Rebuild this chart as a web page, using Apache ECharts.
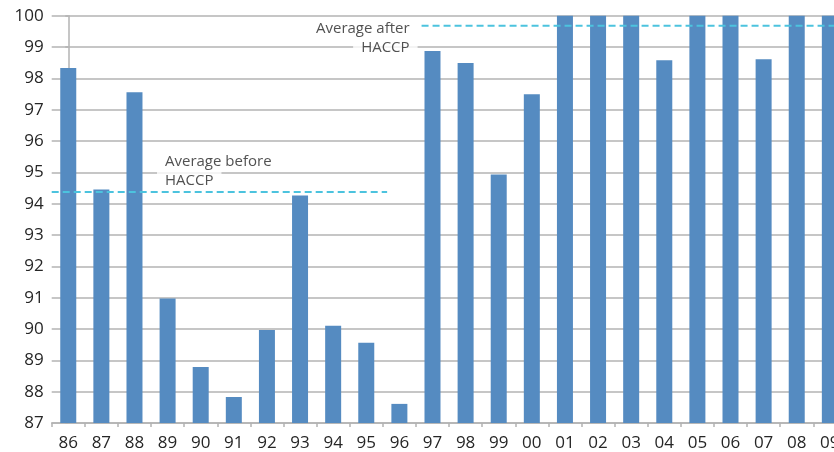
<!DOCTYPE html>
<html>
<head>
<meta charset="utf-8">
<script src="https://cdn.jsdelivr.net/npm/echarts@6/dist/echarts.min.js"></script>
<style>
  html, body { margin: 0; padding: 0; background: #ffffff; }
  #chart { width: 834px; height: 452px; }
</style>
</head>
<body>
<div id="chart"></div>
<script>
// Years (two-digit) on the category axis
const years = ['86','87','88','89','90','91','92','93','94','95','96','97',
               '98','99','00','01','02','03','04','05','06','07','08','09'];
// Yearly compliance values (%)
const values = [98.33, 94.45, 97.56, 90.97, 88.79, 87.83, 89.97, 94.26, 90.10, 89.56, 87.61, 98.87,
                98.49, 94.93, 97.49, 100, 100, 100, 98.58, 100, 100, 98.61, 100, 100];
// Value-axis ticks
const yTicks = [87, 88, 89, 90, 91, 92, 93, 94, 95, 96, 97, 98, 99, 100];

// Period averages: [value, first category position, last category position]
const avgBefore = [94.37, -0.5, 9.63];
const avgAfter = [99.68, 10.67, 23.5];
// Annotation texts
const labelBefore = ['Average before', 'HACCP'];
const labelAfter = ['Average after', 'HACCP'];

const chart = echarts.init(document.getElementById('chart'), null, { renderer: 'canvas' });

const FONT = 'Open Sans';
const textColor = '#262626';
const gridColor = '#b3b3b3';
const dashColor = '#4cc3de';

function richText(lines) {
  return lines.map(l => '{b|' + l + '}').join('\n');
}
const richStyle = {
  b: {
    backgroundColor: '#ffffff',
    padding: [1, 8, 1, 8],
    fontFamily: FONT,
    fontSize: 15,
    lineHeight: 19,
    color: textColor
  }
};

chart.setOption({
  animation: false,
  backgroundColor: '#ffffff',
  // the plot runs a little past the right edge of the canvas
  grid: {
    left: 51.7, width: 794.7, top: 15.7, bottom: 29,
    containLabel: false, outerBoundsMode: 'none'
  },
  xAxis: [
    {
      type: 'category',
      data: years,
      boundaryGap: true,
      axisLine: { show: true, lineStyle: { color: gridColor, width: 1.5 } },
      axisTick: { show: true, length: 4, lineStyle: { color: gridColor, width: 1.5 } },
      axisLabel: { interval: 0, margin: 12, fontFamily: FONT, fontSize: 17, color: textColor },
      splitLine: { show: false }
    },
    {
      type: 'value',
      min: -0.5,
      max: 23.5,
      show: false
    }
  ],
  yAxis: {
    type: 'value',
    min: yTicks[0],
    max: yTicks[yTicks.length - 1],
    interval: 1,
    axisLine: { show: true, lineStyle: { color: gridColor, width: 1.5 } },
    axisTick: { show: true, length: 3, lineStyle: { color: gridColor, width: 1.5 } },
    axisLabel: { margin: 8, fontFamily: FONT, fontSize: 17, color: textColor },
    splitLine: { show: true, lineStyle: { color: gridColor, width: 1.5 } }
  },
  series: [
    {
      type: 'bar',
      data: values,
      barWidth: 16,
      clip: true,
      itemStyle: { color: '#558bc1' },
      z: 2
    },
    {
      type: 'line',
      xAxisIndex: 1,
      data: [[avgBefore[1], avgBefore[0]], [avgBefore[2], avgBefore[0]]],
      symbol: 'none',
      lineStyle: { color: dashColor, width: 2, type: [7, 4] },
      z: 4
    },
    {
      type: 'line',
      xAxisIndex: 1,
      data: [[avgAfter[1], avgAfter[0]], [avgAfter[2], avgAfter[0]]],
      symbol: 'none',
      lineStyle: { color: dashColor, width: 2, type: [7, 4] },
      z: 4
    },
    {
      type: 'scatter',
      xAxisIndex: 1,
      symbolSize: 0,
      silent: true,
      z: 5,
      data: [
        {
          value: [2.68, 95.05],
          label: {
            show: true, position: 'right', distance: 0, align: 'left',
            formatter: richText(labelBefore), rich: richStyle
          }
        },
        {
          value: [10.55, 99.29],
          label: {
            show: true, position: 'left', distance: 0, align: 'right',
            formatter: richText(labelAfter), rich: richStyle
          }
        }
      ]
    }
  ]
});
</script>
</body>
</html>
